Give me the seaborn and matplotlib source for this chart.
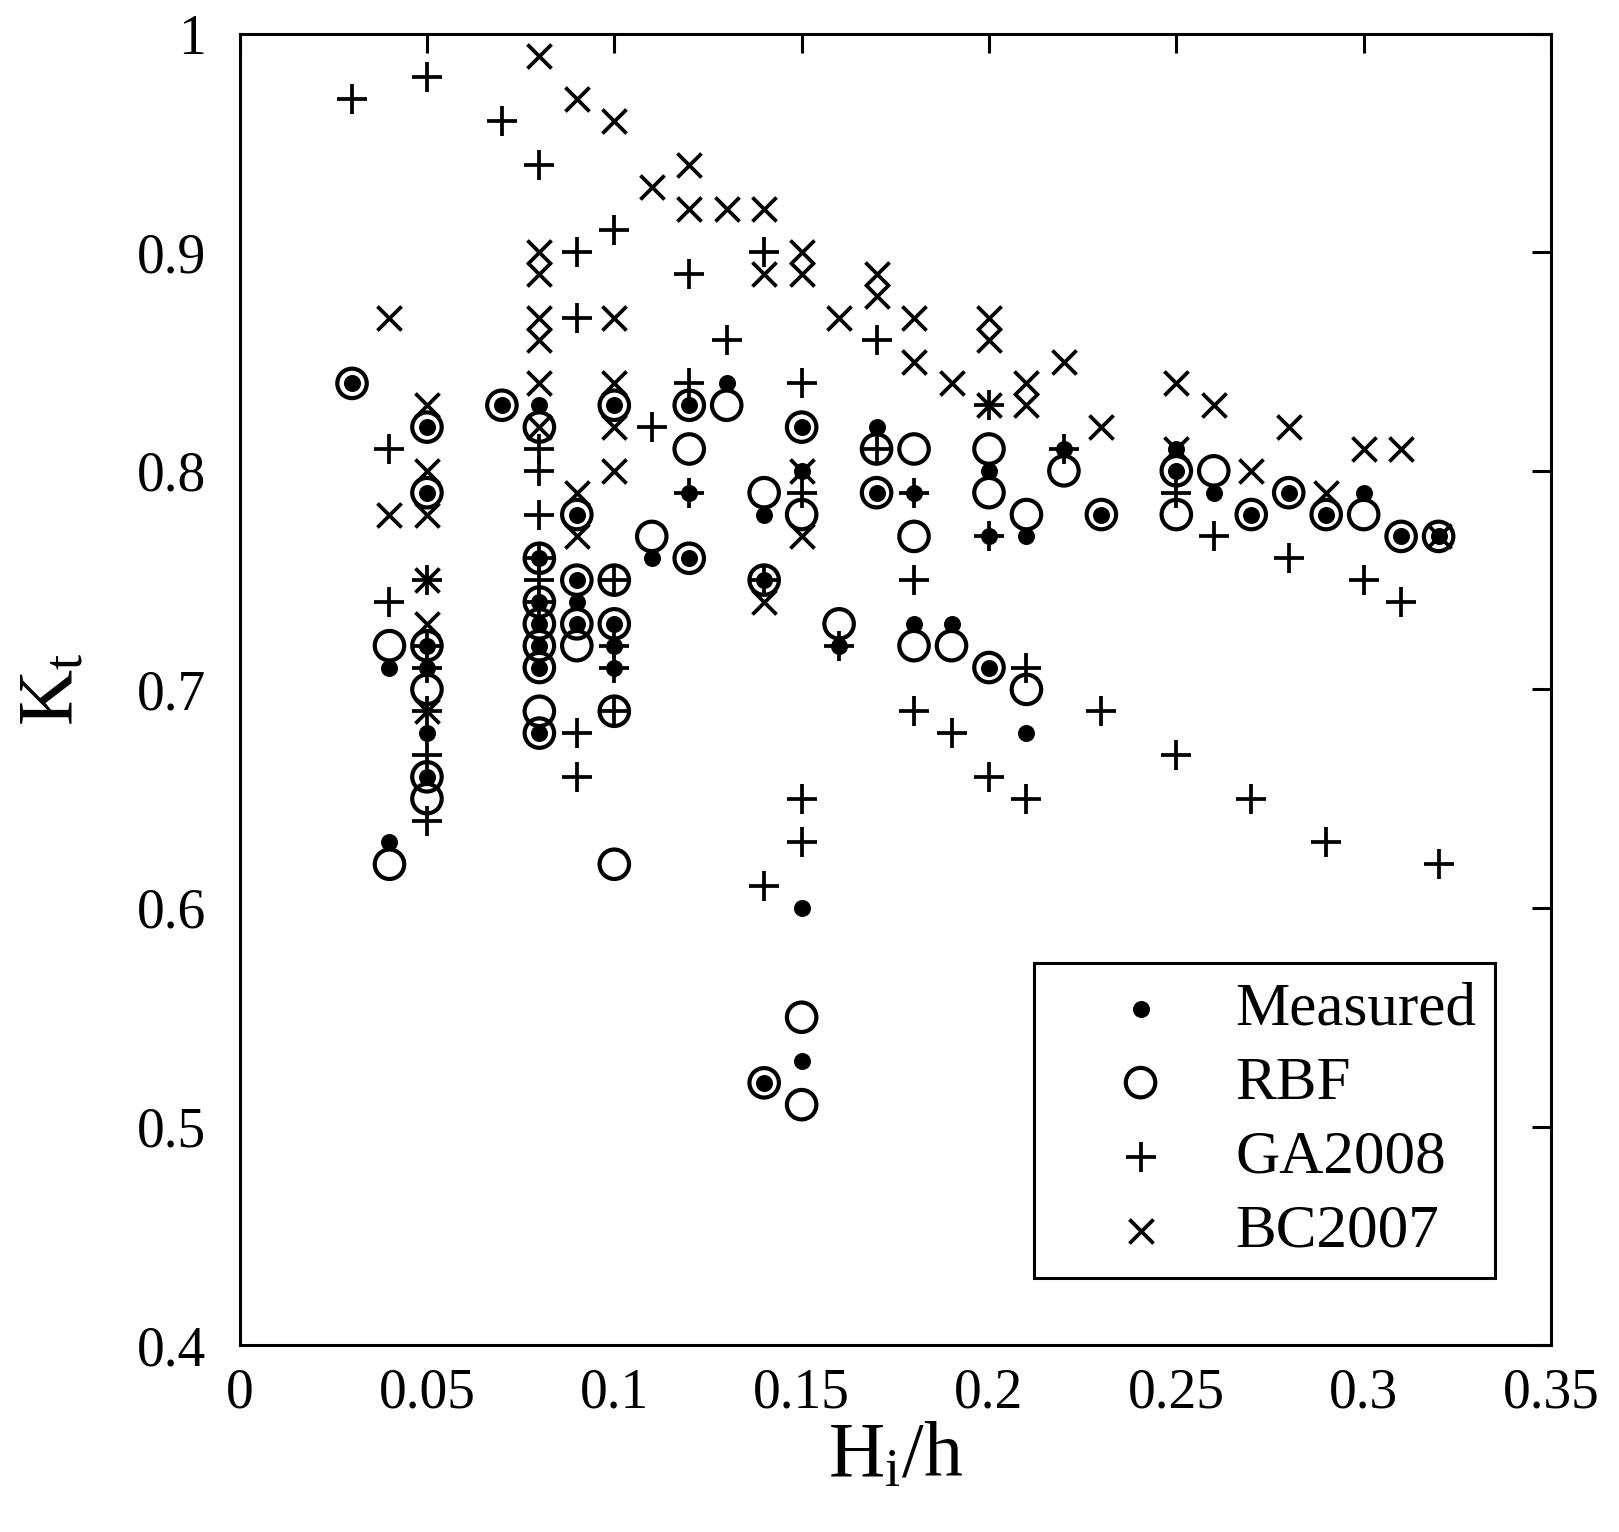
import matplotlib
matplotlib.use('Agg')
import matplotlib.pyplot as plt
import seaborn as sns
import pandas as pd

# ---------------- data ----------------
measured_x = [0.03, 0.04, 0.04, 0.05, 0.05, 0.05, 0.05, 0.05, 0.05, 0.07,
              0.08, 0.08, 0.08, 0.08, 0.08, 0.08, 0.08, 0.09, 0.09, 0.09, 0.09,
              0.10, 0.10, 0.10, 0.10, 0.11, 0.12, 0.12, 0.12, 0.13,
              0.14, 0.14, 0.14, 0.15, 0.15, 0.15, 0.15, 0.16, 0.17, 0.17,
              0.18, 0.18, 0.19, 0.20, 0.20, 0.20, 0.21, 0.21, 0.22, 0.23,
              0.25, 0.25, 0.26, 0.27, 0.28, 0.29, 0.30, 0.31, 0.32]
measured_y = [0.84, 0.71, 0.63, 0.82, 0.79, 0.72, 0.71, 0.68, 0.66, 0.83,
              0.83, 0.76, 0.74, 0.73, 0.72, 0.71, 0.68, 0.78, 0.75, 0.74, 0.73,
              0.83, 0.73, 0.72, 0.71, 0.76, 0.83, 0.79, 0.76, 0.84,
              0.78, 0.75, 0.52, 0.82, 0.80, 0.60, 0.53, 0.72, 0.82, 0.79,
              0.79, 0.73, 0.73, 0.80, 0.77, 0.71, 0.77, 0.68, 0.81, 0.78,
              0.81, 0.80, 0.79, 0.78, 0.79, 0.78, 0.79, 0.77, 0.77]

rbf_x = [0.03, 0.04, 0.04, 0.05, 0.05, 0.05, 0.05, 0.05, 0.05, 0.07,
         0.08, 0.08, 0.08, 0.08, 0.08, 0.08, 0.08, 0.08, 0.09, 0.09, 0.09, 0.09,
         0.10, 0.10, 0.10, 0.10, 0.10, 0.11, 0.12, 0.12, 0.12, 0.13,
         0.14, 0.14, 0.14, 0.15, 0.15, 0.15, 0.15, 0.16, 0.17, 0.17,
         0.18, 0.18, 0.18, 0.19, 0.20, 0.20, 0.20, 0.21, 0.21, 0.22, 0.23,
         0.25, 0.25, 0.26, 0.27, 0.28, 0.29, 0.30, 0.31, 0.32]
rbf_y = [0.84, 0.72, 0.62, 0.82, 0.79, 0.72, 0.70, 0.66, 0.65, 0.83,
         0.82, 0.76, 0.74, 0.73, 0.72, 0.71, 0.69, 0.68, 0.78, 0.75, 0.73, 0.72,
         0.83, 0.75, 0.73, 0.69, 0.62, 0.77, 0.83, 0.81, 0.76, 0.83,
         0.79, 0.75, 0.52, 0.82, 0.78, 0.55, 0.51, 0.73, 0.81, 0.79,
         0.81, 0.77, 0.72, 0.72, 0.81, 0.79, 0.71, 0.78, 0.70, 0.80, 0.78,
         0.80, 0.78, 0.80, 0.78, 0.79, 0.78, 0.78, 0.77, 0.77]

ga_x = [0.03, 0.04, 0.04, 0.05, 0.05, 0.05, 0.05, 0.05, 0.05, 0.05, 0.07,
        0.08, 0.08, 0.08, 0.08, 0.08, 0.08, 0.08, 0.09, 0.09, 0.09, 0.09,
        0.10, 0.10, 0.10, 0.10, 0.10, 0.11, 0.12, 0.12, 0.12, 0.13,
        0.14, 0.14, 0.14, 0.15, 0.15, 0.15, 0.15, 0.16, 0.17, 0.17,
        0.18, 0.18, 0.18, 0.19, 0.20, 0.20, 0.20, 0.21, 0.21, 0.22, 0.23,
        0.25, 0.25, 0.26, 0.27, 0.28, 0.29, 0.30, 0.31, 0.32]
ga_y = [0.97, 0.81, 0.74, 0.98, 0.75, 0.72, 0.71, 0.69, 0.67, 0.64, 0.96,
        0.94, 0.81, 0.80, 0.78, 0.76, 0.75, 0.74, 0.90, 0.87, 0.68, 0.66,
        0.91, 0.75, 0.72, 0.71, 0.69, 0.82, 0.89, 0.84, 0.79, 0.86,
        0.90, 0.75, 0.61, 0.84, 0.79, 0.65, 0.63, 0.72, 0.86, 0.81,
        0.79, 0.75, 0.69, 0.68, 0.83, 0.77, 0.66, 0.71, 0.65, 0.81, 0.69,
        0.79, 0.67, 0.77, 0.65, 0.76, 0.63, 0.75, 0.74, 0.62]

bc_x = [0.04, 0.04, 0.05, 0.05, 0.05, 0.05, 0.05, 0.05,
        0.08, 0.08, 0.08, 0.08, 0.08, 0.08, 0.08, 0.09, 0.09, 0.09,
        0.10, 0.10, 0.10, 0.10, 0.10, 0.11, 0.12, 0.12, 0.13,
        0.14, 0.14, 0.14, 0.15, 0.15, 0.15, 0.15, 0.16, 0.17, 0.17,
        0.18, 0.18, 0.19, 0.20, 0.20, 0.20, 0.21, 0.21, 0.22, 0.23,
        0.25, 0.25, 0.26, 0.27, 0.28, 0.29, 0.30, 0.31, 0.32]
bc_y = [0.87, 0.78, 0.83, 0.80, 0.78, 0.75, 0.73, 0.69,
        0.99, 0.90, 0.89, 0.87, 0.86, 0.84, 0.82, 0.97, 0.79, 0.77,
        0.96, 0.87, 0.84, 0.82, 0.80, 0.93, 0.94, 0.92, 0.92,
        0.92, 0.89, 0.74, 0.90, 0.89, 0.80, 0.77, 0.87, 0.89, 0.88,
        0.87, 0.85, 0.84, 0.87, 0.86, 0.83, 0.84, 0.83, 0.85, 0.82,
        0.84, 0.81, 0.83, 0.80, 0.82, 0.79, 0.81, 0.81, 0.77]

x_ticks = [0, 0.05, 0.1, 0.15, 0.2, 0.25, 0.3, 0.35]
x_tick_labels = ['0', '0.05', '0.1', '0.15', '0.2', '0.25', '0.3', '0.35']
y_ticks = [0.4, 0.5, 0.6, 0.7, 0.8, 0.9, 1.0]
y_tick_labels = ['0.4', '0.5', '0.6', '0.7', '0.8', '0.9', '1']

# ---------------- style ----------------
sns.set_theme(style='white')
plt.rcParams['font.family'] = ['Liberation Serif', 'DejaVu Serif']
plt.rcParams['mathtext.fontset'] = 'custom'
plt.rcParams['mathtext.rm'] = 'Liberation Serif'
plt.rcParams['mathtext.it'] = 'Liberation Serif:italic'
for key in ['text.color', 'axes.labelcolor', 'xtick.color', 'ytick.color',
            'axes.edgecolor']:
    plt.rcParams[key] = 'black'

fig = plt.figure(figsize=(16.19, 15.32), dpi=100)
ax = fig.add_axes([0.148, 0.122, 0.810, 0.856])

df_m = pd.DataFrame({'x': measured_x, 'y': measured_y})
df_r = pd.DataFrame({'x': rbf_x, 'y': rbf_y})
df_g = pd.DataFrame({'x': ga_x, 'y': ga_y})
df_b = pd.DataFrame({'x': bc_x, 'y': bc_y})

sns.scatterplot(data=df_m, x='x', y='y', marker='o', s=150, color='black',
                edgecolor='black', linewidth=0, label='Measured', ax=ax, zorder=3)
sns.scatterplot(data=df_r, x='x', y='y', marker='o', s=450, color='black',
                edgecolor='black', linewidth=3.0, label='RBF', ax=ax, zorder=3)
ax.collections[-1].set_facecolor('none')
sns.scatterplot(data=df_g, x='x', y='y', marker='+', s=460, color='black',
                linewidth=2.7, label='GA2008', ax=ax, zorder=3)
sns.scatterplot(data=df_b, x='x', y='y', marker='x', s=300, color='black',
                linewidth=2.7, label='BC2007', ax=ax, zorder=3)

ax.set_xlim(0, 0.35)
ax.set_ylim(0.4, 1.0)
ax.set_xticks(x_ticks)
ax.set_xticklabels(x_tick_labels)
ax.set_yticks(y_ticks)
ax.set_yticklabels(y_tick_labels)
ax.tick_params(direction='in', length=14, width=2.2, top=True, right=True,
               labelsize=40, colors='black')
ax.tick_params(axis='x', pad=16)
ax.tick_params(axis='y', pad=24)
for sp in ax.spines.values():
    sp.set_linewidth(2.2)
    sp.set_color('black')

ax.set_xlabel(r'$\mathrm{H_i/h}$', fontsize=56, labelpad=2)
ax.set_ylabel(r'$\mathrm{K_t}$', fontsize=56, labelpad=34)

leg = ax.legend(loc='lower right', bbox_to_anchor=(0.957, 0.051), frameon=True,
                fancybox=False, edgecolor='black', fontsize=44,
                handlelength=2.9, handletextpad=0.1, borderpad=0.3,
                labelspacing=0.3, borderaxespad=0)
leg.get_frame().set_linewidth(2.2)
leg.get_frame().set_facecolor('white')
leg.get_frame().set_alpha(1)

fig.savefig('out.png', dpi=100)
